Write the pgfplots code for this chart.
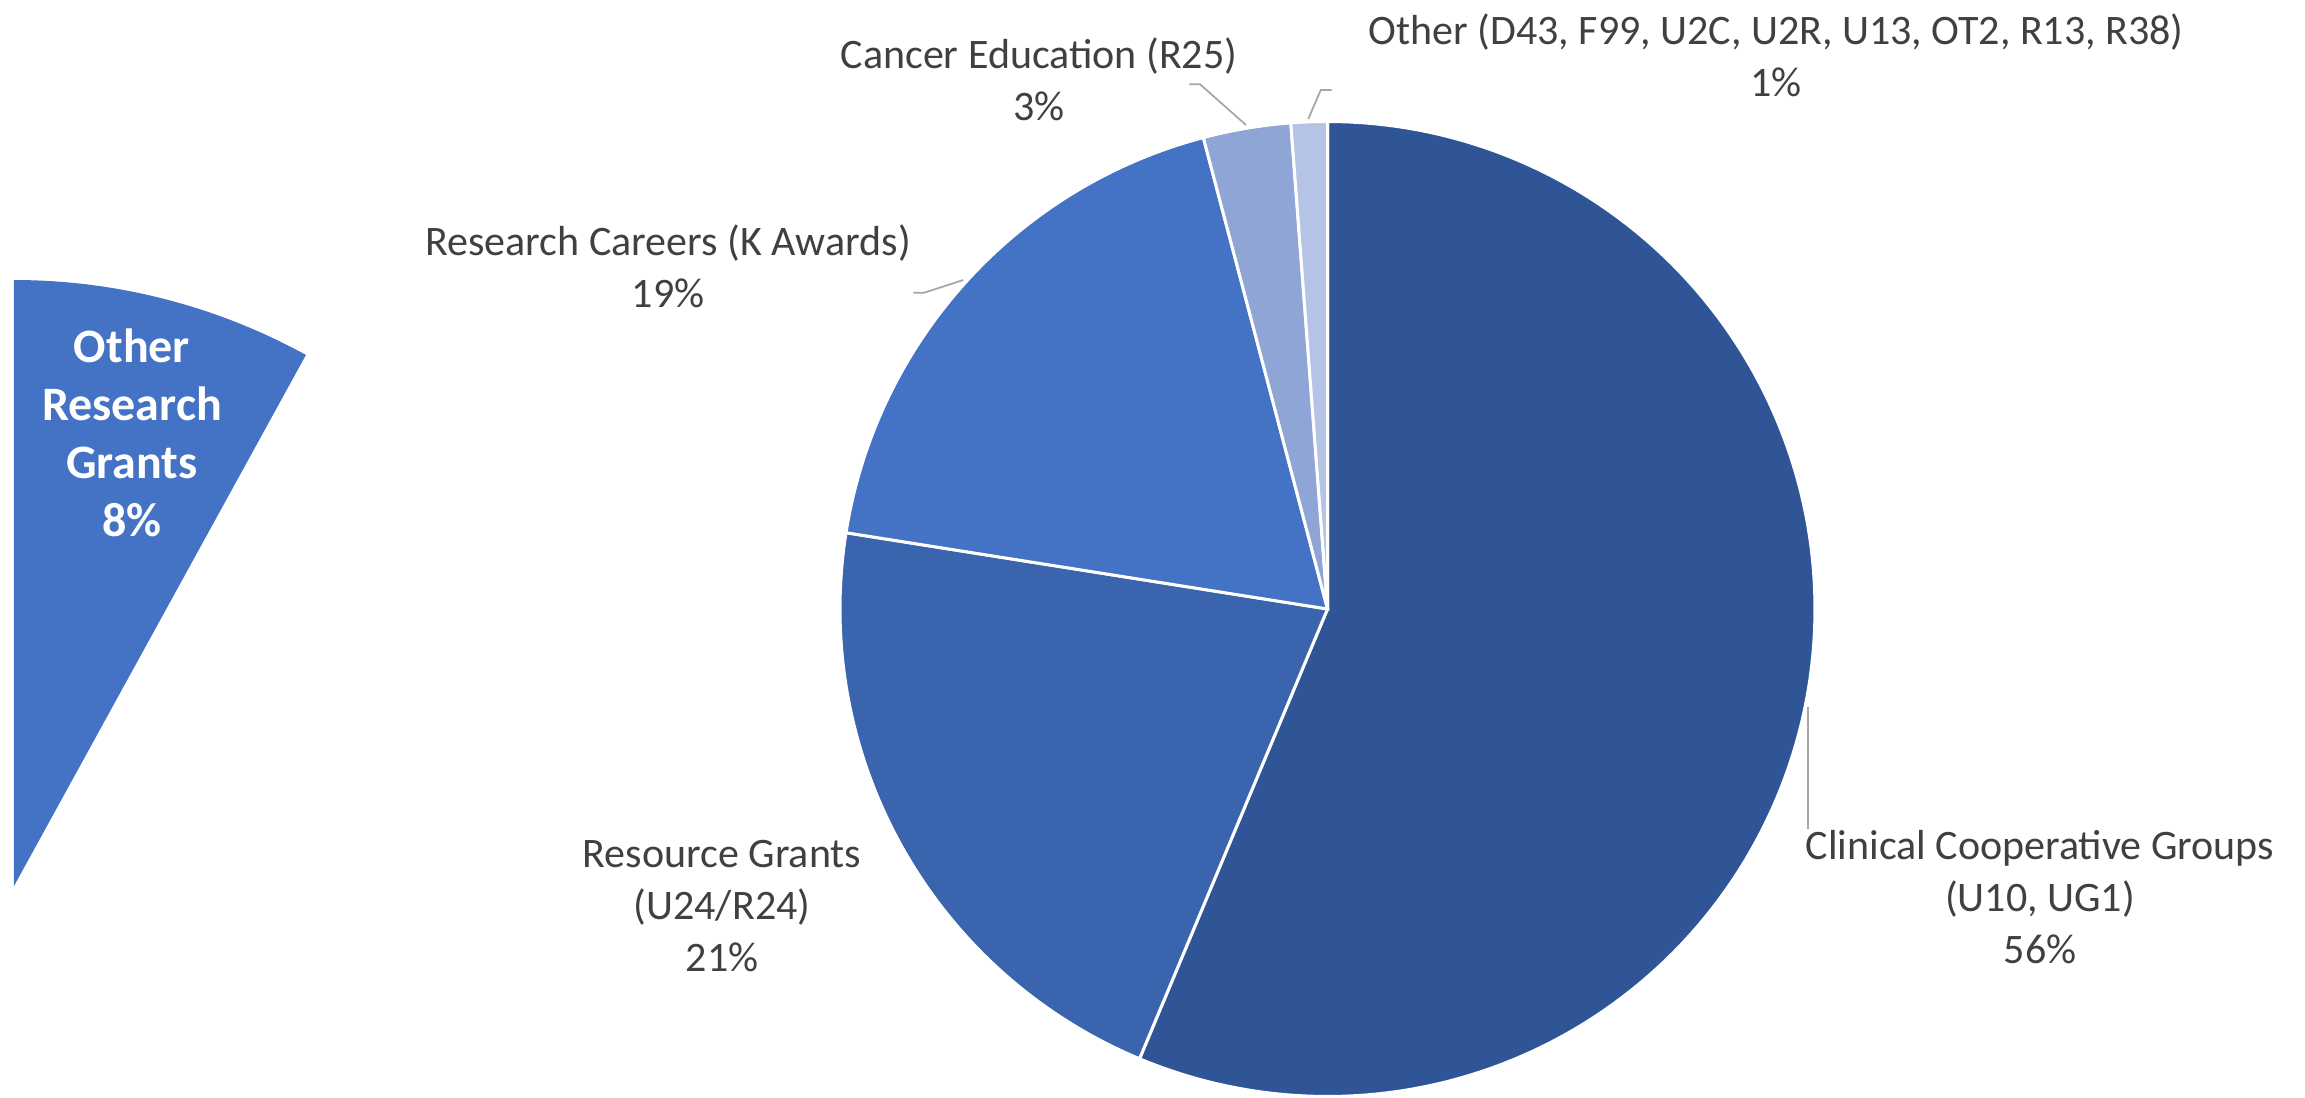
\documentclass[border=0pt]{standalone}
\usepackage{pgfplots}
\pgfplotsset{compat=1.18}
\usepackage{fontspec}
\setmainfont{Carlito}
\definecolor{cClin}{HTML}{2F5597}
\definecolor{cRes}{HTML}{3A64AD}
\definecolor{cCar}{HTML}{4472C4}
\definecolor{cEdu}{HTML}{8FA5D6}
\definecolor{cOth}{HTML}{B4C3E6}
\definecolor{cTxt}{HTML}{404040}
\definecolor{cLead}{HTML}{A6A6A6}
% data (percent)
\def\vClin{56.3}\def\vRes{21.2}\def\vCar{18.4}\def\vEdu{2.9}\def\vOth{1.2}
\def\vORG{8}
\def\cx{1327.5}\def\cy{489}\def\r{487.5}
\def\lx{14}\def\ly{212}\def\lr{606}
\pgfmathsetmacro\aA{90-3.6*\vClin}
\pgfmathsetmacro\aB{\aA-3.6*\vRes}
\pgfmathsetmacro\aC{\aB-3.6*\vCar}
\pgfmathsetmacro\aD{\aC-3.6*\vEdu}
\pgfmathsetmacro\aE{\aD-3.6*\vOth}
\pgfmathsetmacro\aL{90-3.6*\vORG}
\begin{document}%
\begin{tikzpicture}
\begin{axis}[x=0.2pt, y=0.2pt, xmin=0, xmax=2305, ymin=0, ymax=1098,
  hide axis, clip=false, scale only axis,
  every axis plot/.append style={variable=\t, samples=150, draw=white, line width=0.6pt}]
\path (rel axis cs:0,0) rectangle (rel axis cs:1,1);
% main pie
\addplot[fill=cClin, domain=\aA:90] ({\cx+\r*cos(\t)},{\cy+\r*sin(\t)}) -- (\cx,\cy) -- cycle;
\addplot[fill=cRes, domain=\aB:\aA] ({\cx+\r*cos(\t)},{\cy+\r*sin(\t)}) -- (\cx,\cy) -- cycle;
\addplot[fill=cCar, domain=\aC:\aB] ({\cx+\r*cos(\t)},{\cy+\r*sin(\t)}) -- (\cx,\cy) -- cycle;
\addplot[fill=cEdu, domain=\aD:\aC] ({\cx+\r*cos(\t)},{\cy+\r*sin(\t)}) -- (\cx,\cy) -- cycle;
\addplot[fill=cOth, domain=\aE:\aD] ({\cx+\r*cos(\t)},{\cy+\r*sin(\t)}) -- (\cx,\cy) -- cycle;
% secondary pie slice (cropped)
\addplot[fill=cCar, draw=none, domain=\aL:90] ({\lx+\lr*cos(\t)},{\ly+\lr*sin(\t)}) -- (\lx,\ly) -- cycle;
% leader lines
\addplot[cLead, line width=0.35pt, no marks] coordinates {(1808,391) (1808,269)};
\addplot[cLead, line width=0.35pt, no marks] coordinates {(913.3,805.3) (924.3,805.3) (963.3,818)};
\addplot[cLead, line width=0.35pt, no marks] coordinates {(1189.3,1013.7) (1200,1013.7) (1246,973)};
\addplot[cLead, line width=0.35pt, no marks] coordinates {(1331.7,1008) (1320.7,1008) (1308.3,979)};
% labels
\begin{scope}[every node/.style={text=cTxt, align=center, font=\fontsize{8.4}{10.4}\selectfont, inner sep=0pt}]
\node at (1776,1043) {Other (D43, F99, U2C, U2R, U13, OT2, R13, R38)\\1\%};
\node at (1039,1018.5) {Cancer Education (R25)\\3\%};
\node at (668,832) {Research Careers (K Awards)\\19\%};
\node at (722,192) {Resource Grants\\(U24/R24)\\21\%};
\node at (2040,201) {Clinical Cooperative Groups\\(U10, UG1)\\56\%};
\end{scope}
\node[text=white, align=center, font=\bfseries\fontsize{9.6}{11.6}\selectfont, inner sep=0pt] at (132,665) {Other\\Research\\Grants\\8\%};
\end{axis}
\end{tikzpicture}%
\end{document}
